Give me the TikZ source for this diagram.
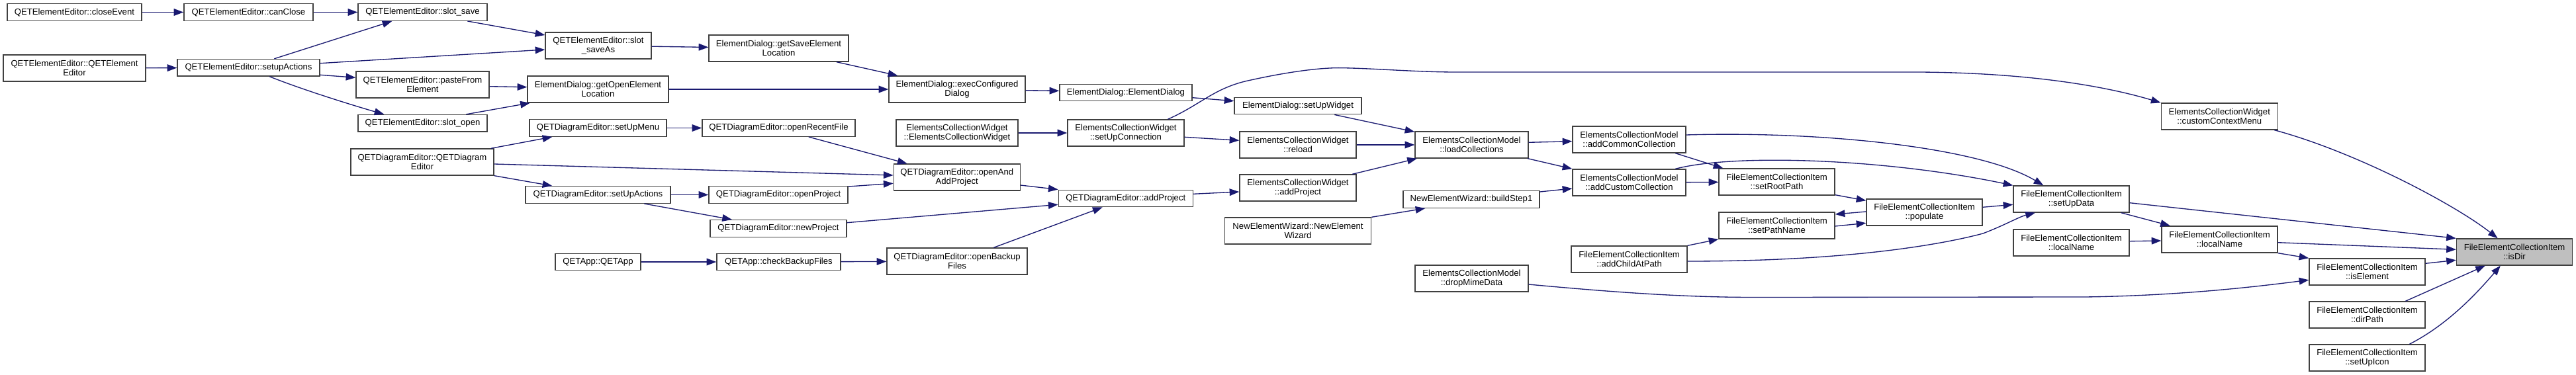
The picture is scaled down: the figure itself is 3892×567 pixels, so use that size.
\documentclass[tikz,border=0pt]{standalone}
\usepackage{fontspec}
\setmainfont{Liberation Sans}
\usepackage{xcolor}
\usepackage{tikz}
\usetikzlibrary{arrows.meta, calc}
\definecolor{edgeblue}{HTML}{191970}
\definecolor{boxgray}{HTML}{404040}
\definecolor{hilite}{HTML}{BFBFBF}

\begin{document}
\begin{tikzpicture}[x=0.75pt, y=-0.75pt,
  fn/.style={draw=boxgray, line width=1pt, fill=white, align=center, inner sep=0pt,
    font={\fontsize{9.85}{10.3}\selectfont}},
  one/.style={fn, minimum height=19.2pt},
  two/.style={fn, minimum height=30pt},
  bw/.style={minimum width=#1*0.75pt},
  call/.style={edgeblue, line width=1pt, -{Triangle[length=11pt, width=8pt]}}]
  \useasboundingbox (0,0) rectangle (3892,567);

  % QETElementEditor callers
  \node[one, bw=203] (eeClose) at (112.5,18.5) {QETElementEditor::closeEvent};
  \node[one, bw=195] (eeCanClose) at (375.5,18.5) {QETElementEditor::canClose};
  \node[one, bw=195] (eeSlotSave) at (638.5,18.5) {QETElementEditor::slot\_save};
  \node[two, bw=215] (eeCtor) at (112.5,103) {QETElementEditor::QETElement\\Editor};
  \node[one, bw=215] (eeSetup) at (375.5,102.3) {QETElementEditor::setupActions};
  \node[two, bw=201] (eePaste) at (638.5,128) {QETElementEditor::pasteFrom\\Element};
  \node[one, bw=195] (eeSlotOpen) at (638.5,186.3) {QETElementEditor::slot\_open};
  \node[two, bw=160] (eeSaveAs) at (904,69) {QETElementEditor::slot\\\_saveAs};

  % ElementDialog
  \node[two, bw=211] (edGetSave) at (1176.5,73) {ElementDialog::getSaveElement\\Location};
  \node[two, bw=213] (edGetOpen) at (903.5,135) {ElementDialog::getOpenElement\\Location};
  \node[two, bw=206] (edExec) at (1446,135) {ElementDialog::execConfigured\\Dialog};
  \node[one, bw=200] (edCtor) at (1701,140) {ElementDialog::ElementDialog};
  \node[one, bw=192] (edSetUp) at (1961,160) {ElementDialog::setUpWidget};

  % QETDiagramEditor and QETApp
  \node[two, bw=216] (deCtor) at (638,245) {QETDiagramEditor::QETDiagram\\Editor};
  \node[one, bw=207] (deMenu) at (903.5,193.5) {QETDiagramEditor::setUpMenu};
  \node[one, bw=231] (deRecent) at (1176.5,193.5) {QETDiagramEditor::openRecentFile};
  \node[one, bw=219] (deActions) at (903.5,294.5) {QETDiagramEditor::setUpActions};
  \node[one, bw=210] (deOpen) at (1176,294.5) {QETDiagramEditor::openProject};
  \node[one, bw=206] (deNew) at (1176,345.5) {QETDiagramEditor::newProject};
  \node[one, bw=129] (appCtor) at (903.5,396) {QETApp::QETApp};
  \node[one, bw=187] (appBackup) at (1176.5,396) {QETApp::checkBackupFiles};
  \node[two, bw=191] (deOpenAdd) at (1445.75,268) {QETDiagramEditor::openAnd\\AddProject};
  \node[two, bw=212] (deBackup) at (1446,395) {QETDiagramEditor::openBackup\\Files};
  \node[one, bw=203] (deAdd) at (1700.75,300) {QETDiagramEditor::addProject};

  % ElementsCollectionWidget, NewElementWizard
  \node[two, bw=184] (ecwCtor) at (1446,201) {ElementsCollectionWidget\\::ElementsCollectionWidget};
  \node[two, bw=176] (ecwConn) at (1701,201) {ElementsCollectionWidget\\::setUpConnection};
  \node[two, bw=176] (ecwReload) at (1961,219) {ElementsCollectionWidget\\::reload};
  \node[two, bw=176] (ecwAdd) at (1961,284) {ElementsCollectionWidget\\::addProject};
  \node[two, bw=221] (newCtor) at (1961,349) {NewElementWizard::NewElement\\Wizard};
  \node[one, bw=206] (newStep) at (2223,301.5) {NewElementWizard::buildStep1};
  \node[two, bw=176] (ecwMenu) at (3353.25,176) {ElementsCollectionWidget\\::customContextMenu};

  % ElementsCollectionModel
  \node[two, bw=171] (ecmLoad) at (2223.5,219) {ElementsCollectionModel\\::loadCollections};
  \node[two, bw=171] (ecmCommon) at (2461.5,211) {ElementsCollectionModel\\::addCommonCollection};
  \node[two, bw=171] (ecmCustom) at (2461.5,276) {ElementsCollectionModel\\::addCustomCollection};
  \node[two, bw=171] (ecmDrop) at (2223.5,421) {ElementsCollectionModel\\::dropMimeData};

  % FileElementCollectionItem
  \node[two, bw=175] (fecAddChild) at (2461.5,392) {FileElementCollectionItem\\::addChildAtPath};
  \node[two, bw=175] (fecRoot) at (2684.5,275) {FileElementCollectionItem\\::setRootPath};
  \node[two, bw=175] (fecPath) at (2684.5,341) {FileElementCollectionItem\\::setPathName};
  \node[two, bw=175] (fecPopulate) at (2907.5,321) {FileElementCollectionItem\\::populate};
  \node[two, bw=175] (fecData) at (3129.5,301) {FileElementCollectionItem\\::setUpData};
  \node[two, bw=175] (fecLocalA) at (3129.5,367) {FileElementCollectionItem\\::localName};
  \node[two, bw=175] (fecLocalB) at (3353.5,362) {FileElementCollectionItem\\::localName};
  \node[two, bw=175] (fecElement) at (3576.5,411) {FileElementCollectionItem\\::isElement};
  \node[two, bw=175] (fecDirPath) at (3576.5,476) {FileElementCollectionItem\\::dirPath};
  \node[two, bw=175] (fecIcon) at (3576.5,541) {FileElementCollectionItem\\::setUpIcon};
  \node[two, bw=175, fill=hilite] (fecIsDir) at (3799,381) {FileElementCollectionItem\\::isDir};

  % calls, element editor part
  \draw[call] (eeClose) -- (eeCanClose);
  \draw[call] (eeCanClose) -- (eeSlotSave);
  \draw[call] (eeCtor) -- (eeSetup);
  \draw[call] ($(eeSetup.north west)+(147,0)$) -- ($(eeSlotSave.south west)+(52,0)$);
  \draw[call] ($(eeSetup.east)+(0,-6.6)$) -- ($(eeSaveAs.west)+(0,6)$);
  \draw[call] ($(eeSlotSave.south west)+(166,0)$) -- ($(eeSaveAs.west)+(0,-16)$);
  \draw[call] ($(eeSetup.east)+(0,11)$) -- ($(eePaste.west)+(0,-10.7)$);
  \draw[call] ($(eeSetup.south west)+(140,0)$) .. controls +(55,22) and +(-35,-10) .. ($(eeSlotOpen.north west)+(40,0)$);
  \draw[call] (eeSaveAs) -- (edGetSave);
  \draw[call] ($(eePaste.east)+(0,2.7)$) -- ($(edGetOpen.west)+(0,-3.3)$);
  \draw[call] ($(eeSlotOpen.north west)+(164,0)$) -- ($(edGetOpen.south west)+(4.5,0)$);

  % calls, element dialog
  \draw[call] ($(edGetSave.south west)+(193.5,0)$) -- ($(edExec.north west)+(14,0)$);
  \draw[call] (edGetOpen) -- (edExec);
  \draw[call] ($(edExec.east)+(0,1.7)$) -- ($(edCtor.west)+(0,-2.7)$);
  \draw[call] ($(edCtor.east)+(0,7.7)$) -- ($(edSetUp.west)+(0,-7.3)$);

  % calls, diagram editor
  \draw[call] ($(deCtor.north west)+(212.6,0)$) -- ($(deMenu.south west)+(35,0)$);
  \draw[call] ($(deCtor.east)+(0,3)$) -- ($(deOpenAdd.west)+(0,-3)$);
  \draw[call] (deCtor.south east) -- ($(deActions.north west)+(41,0)$);
  \draw[call] (deMenu) -- (deRecent);
  \draw[call] ($(deRecent.south west)+(161.4,0)$) -- ($(deOpenAdd.north west)+(21,0)$);
  \draw[call] (deActions) -- (deOpen);
  \draw[call] ($(deActions.south west)+(180,0)$) -- ($(deNew.north west)+(33.6,0)$);
  \draw[call] ($(deOpen.north east)+(0,1)$) -- ($(deOpenAdd.west)+(0,9.3)$);
  \draw[call] ($(deNew.east)+(0,-8.8)$) -- ($(deAdd.west)+(0,9.3)$);
  \draw[call] (appCtor) -- (appBackup);
  \draw[call] (appBackup) -- (deBackup);
  \draw[call] ($(deBackup.north west)+(162,0)$) -- ($(deAdd.south west)+(67,0)$);
  \draw[call] ($(deOpenAdd.east)+(0,12)$) -- (deAdd.north west);
  \draw[call] ($(deAdd.east)+(0,-6.7)$) -- ($(ecwAdd.west)+(0,6)$);

  % calls, collection widget
  \draw[call] (ecwCtor) -- (ecwConn);
  \draw[call] ($(ecwConn.east)+(0,6.3)$) -- ($(ecwReload.west)+(0,-6.7)$);
  \draw[call] ($(ecwConn.north west)+(152,0)$) .. controls (1815,158) and (1835,132) .. (1890,121)
    .. controls (1935,111) and (1990,102) .. (2026,102.7)
    .. controls (2070,103) and (2140,109) .. (2200,109) -- (2900,109)
    .. controls (3050,110) and (3170,127) .. (ecwMenu.north west);
  \draw[call] ($(edSetUp.south west)+(152,0)$) -- ($(ecmLoad.north west)+(0,1)$);
  \draw[call] (ecwReload) -- (ecmLoad);
  \draw[call] ($(ecwAdd.north east)+(-6.4,0)$) -- ($(ecmLoad.south west)+(3.5,0)$);
  \draw[call] (newCtor.north east) -- ($(newStep.south west)+(34,0)$);

  % calls, collection model
  \draw[call] ($(ecmLoad.east)+(0,-3.7)$) -- ($(ecmCommon.west)+(0,2.7)$);
  \draw[call] ($(ecmLoad.south east)+(-1.6,0)$) -- (ecmCustom.north west);
  \draw[call] ($(newStep.east)+(0,-11.5)$) -- ($(ecmCustom.west)+(0,9)$);
  \draw[call] ($(ecmCommon.east)+(0,-7)$) .. controls (2750,198) and (2990,222) .. ($(fecData.north west)+(46,0)$);
  \draw[call] ($(ecmCommon.south east)+(-16.4,0)$) -- ($(fecRoot.north west)+(7,0)$);
  \draw[call] ($(ecmCustom.north east)+(-16.4,0)$) .. controls (2620,232) and (2850,240) .. (fecData.north west);
  \draw[call] (ecmCustom) -- (fecRoot);
  \draw[call] ($(ecmDrop.east)+(0,9)$) .. controls (2450,443) and (2550,449.5) .. (2650,449.5) -- (3150,449)
    .. controls (3300,447) and (3420,432) .. ($(fecElement.west)+(0,12.3)$);

  % calls, file collection item
  \draw[call] (fecAddChild.north east) -- (fecPath.south west);
  \draw[call] ($(fecAddChild.east)+(0,3)$) .. controls (2800,395) and (2940,368) .. (2996,353)
    .. controls (3030,340) and (3050,328) .. ($(fecData.south west)+(33.6,0)$);
  \draw[call] ($(fecRoot.south east)+(0,-1)$) -- ($(fecPopulate.west)+(0,-17.7)$);
  \draw[call] ($(fecPopulate.west)+(0,-1)$) -- ($(fecPath.east)+(0,-17)$);
  \draw[call] ($(fecPath.east)+(0,1)$) -- ($(fecPopulate.west)+(0,16.3)$);
  \draw[call] ($(fecPopulate.east)+(0,-7.7)$) -- ($(fecData.west)+(0,8.3)$);
  \draw[call] ($(fecData.east)+(0,5.7)$) -- (fecIsDir.north west);
  \draw[call] ($(fecData.south east)+(-13,0)$) -- ($(fecLocalB.north west)+(13.5,0)$);
  \draw[call] ($(fecLocalA.east)+(0,-2.3)$) -- ($(fecLocalB.west)+(0,2)$);
  \draw[call] ($(ecwMenu.south east)+(-5.6,0)$) .. controls (3560,230) and (3710,310) .. ($(fecIsDir.north west)+(62.8,0)$);
  \draw[call] ($(fecLocalB.east)+(0,4.7)$) -- ($(fecIsDir.west)+(0,-3.7)$);
  \draw[call] (fecLocalB.south east) -- (fecElement.north west);
  \draw[call] ($(fecElement.east)+(0,-12.7)$) -- ($(fecIsDir.west)+(0,12.3)$);
  \draw[call] ($(fecDirPath.north west)+(146,0)$) -- ($(fecIsDir.south west)+(44,0)$);
  \draw[call] ($(fecIcon.north west)+(152,0)$) .. controls (3700,490) and (3745,440) .. ($(fecIsDir.south west)+(67,0)$);
\end{tikzpicture}
\end{document}
